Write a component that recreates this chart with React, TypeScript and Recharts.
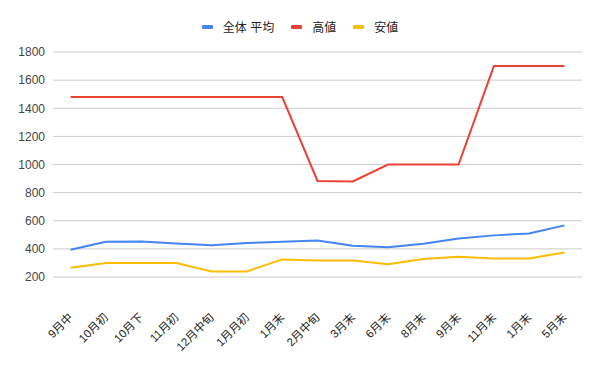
import React from 'react';
import { LineChart, Line, XAxis, YAxis, CartesianGrid, Legend } from 'recharts';

const categories = ['9月中', '10月初', '10月下', '11月初', '12月中旬', '1月月初', '1月末', '2月中旬', '3月末', '6月末', '8月末', '9月末', '11月末', '1月末', '5月末'];
const avgValues = [394, 451, 453, 439, 425, 442, 451, 460, 423, 411, 437, 473, 496, 510, 567];
const highValues = [1480, 1480, 1480, 1480, 1480, 1480, 1480, 883, 880, 1000, 1000, 1000, 1700, 1700, 1700];
const lowValues = [266, 300, 300, 300, 240, 240, 325, 318, 318, 290, 328, 344, 332, 332, 375];
const yTicks = [200, 400, 600, 800, 1000, 1200, 1400, 1600, 1800];

const seriesNames = ['全体 平均', '高値', '安値'];
const seriesColors = ['#4285F4', '#EA4335', '#FBBC04'];

const data = categories.map((c, i) => ({
  idx: i,
  name: c,
  avg: avgValues[i],
  high: highValues[i],
  low: lowValues[i],
}));

const FONT = 'Arial, "Liberation Sans", "Noto Sans CJK JP", sans-serif';

const XTick = (props: any) => {
  const { x, y, payload } = props;
  const label = categories[payload.value] ?? payload.value;
  const ax = x + 3;
  const ay = y + 33;
  return (
    <text
      x={ax}
      y={ay}
      transform={`rotate(-45, ${ax}, ${ay})`}
      textAnchor="end"
      fontSize={11.5}
      fill="#222"
      fontFamily={FONT}
    >
      {label}
    </text>
  );
};

const LegendContent = () => (
  <div style={{ display: 'flex', justifyContent: 'center', alignItems: 'center', fontFamily: FONT, fontSize: 12, color: '#222' }}>
    {seriesNames.map((n, i) => (
      <div key={n} style={{ display: 'flex', alignItems: 'center', marginRight: i < 2 ? 17 : 0 }}>
        <div style={{ width: 11, height: 4, borderRadius: 1, background: seriesColors[i], marginRight: 10 }} />
        <span>{n}</span>
      </div>
    ))}
  </div>
);

export default function App() {
  return (
    <div style={{ position: 'absolute', left: 0, top: 0, width: 600, height: 371, background: '#fff' }}>
      <LineChart width={600} height={371} data={data} margin={{ top: 36, right: 18, bottom: 0, left: 0 }}>
        <Legend
          verticalAlign="top"
          align="center"
          content={<LegendContent />}
          wrapperStyle={{ position: 'absolute', top: 18, left: 0, width: 600, height: 16 }}
        />
        <CartesianGrid vertical={false} stroke="#cccccc" />
        <XAxis
          dataKey="idx"
          type="category"
          interval={0}
          tick={<XTick />}
          tickLine={false}
          axisLine={false}
          height={94}
          padding={{ left: 17.6, right: 17.6 }}
        />
        <YAxis
          domain={[200, 1800]}
          ticks={yTicks}
          width={53}
          tickLine={false}
          axisLine={false}
          tick={{ fontSize: 12, fill: '#444', fontFamily: FONT }}
        />
        <Line type="linear" dataKey="avg" name={seriesNames[0]} stroke={seriesColors[0]} strokeWidth={2} dot={false} isAnimationActive={false} />
        <Line type="linear" dataKey="high" name={seriesNames[1]} stroke={seriesColors[1]} strokeWidth={2} dot={false} isAnimationActive={false} />
        <Line type="linear" dataKey="low" name={seriesNames[2]} stroke={seriesColors[2]} strokeWidth={2} dot={false} isAnimationActive={false} />
      </LineChart>
    </div>
  );
}
